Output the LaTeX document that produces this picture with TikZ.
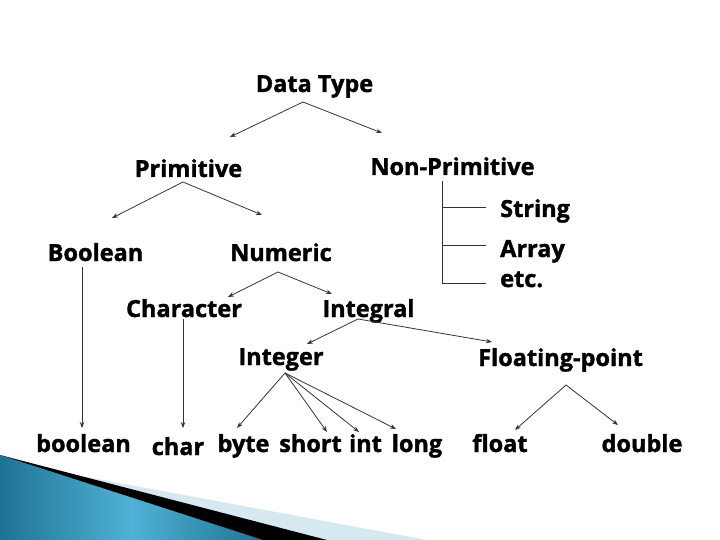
\documentclass[tikz,border=0pt]{standalone}
\usepackage{fontspec}
\setmainfont{Open Sans}[BoldFeatures={FakeBold=1.5}]
\usetikzlibrary{arrows.meta}
\definecolor{bandblue}{RGB}{30,115,148}
\definecolor{bandlight}{RGB}{80,178,214}
\definecolor{bandpale}{RGB}{214,232,240}
\begin{document}
\begin{tikzpicture}[x=1pt,y=-1pt,
  lbl/.style={font=\bfseries\fontsize{23.5}{26}\selectfont, inner sep=0pt, anchor=base},
  lblw/.style={lbl, anchor=base west},
  arr/.style={draw=black!80, line width=0.8pt, -{Stealth[length=6pt,width=4.5pt]}},
  ln/.style={draw=black!80, line width=0.8pt}]
\useasboundingbox (0,0) rectangle (720,540);
% bottom decoration
\fill[bandpale] (0,461) -- (427,540) -- (0,540) -- cycle;
\fill[black] (0,455) -- (327,540) -- (0,540) -- cycle;
\shade[left color=bandblue, right color=bandblue, middle color=bandlight] (0,455) -- (263,540) -- (0,540) -- cycle;

% labels
\node[lbl] (dt) at (314.5,92) {Data Type};
\node[lbl] (prim) at (188.5,177) {Primitive};
\node[lbl] (nonp) at (452.5,175) {Non-Primitive};
\node[lblw] (str) at (500,217) {String};
\node[lblw] (arrn) at (500,257) {Array};
\node[lblw] (etc) at (500,287) {etc.};
\node[lbl] (bool) at (95.5,261) {Boolean};
\node[lbl] (num) at (281,261) {Numeric};
\node[lbl] (chr) at (184,317) {Character};
\node[lbl] (intg) at (368.5,317) {Integral};
\node[lbl] (inte) at (281,365) {Integer};
\node[lbl] (flp) at (560.5,366) {Floating-point};
\node[lbl] (tbool) at (83.5,452) {boolean};
\node[lbl] (tchar) at (178,455) {char};
\node[lbl] (tbyte) at (243.5,452) {byte};
\node[lbl] (tshort) at (310.5,452) {short};
\node[lbl] (tint) at (365.5,452) {int};
\node[lbl] (tlong) at (417,452) {long};
\node[lbl] (tfloat) at (500,452) {float};
\node[lbl] (tdouble) at (642,452) {double};

% connector end points
\coordinate (dtA) at (303,102);
\coordinate (dtL) at (230,137);
\coordinate (dtR) at (382,133);
\coordinate (prA) at (183,182);
\coordinate (prL) at (112,218);
\coordinate (prR) at (262,215);
\coordinate (npTop) at (442,181);
\coordinate (npS) at (442,207);
\coordinate (npA) at (442,245);
\coordinate (npE) at (442,283);
\coordinate (npSe) at (486,207);
\coordinate (npAe) at (486,245);
\coordinate (npEe) at (486,283);
\coordinate (boA) at (82,267);
\coordinate (boT) at (82,428);
\coordinate (nuA) at (278,272);
\coordinate (nuL) at (228,297);
\coordinate (nuR) at (332,294);
\coordinate (chA) at (183,319);
\coordinate (chT) at (183,428);
\coordinate (igA) at (358,319);
\coordinate (igL) at (307,344);
\coordinate (igR) at (492,342);
\coordinate (inA) at (285,373);
\coordinate (inB) at (237,428);
\coordinate (inS) at (327,432);
\coordinate (inI) at (359,432);
\coordinate (inL) at (396,429);
\coordinate (fpA) at (566,385);
\coordinate (fpF) at (515,430);
\coordinate (fpD) at (618,425);

% connectors
\draw[arr] (dtA) -- (dtL);
\draw[arr] (dtA) -- (dtR);
\draw[arr] (prA) -- (prL);
\draw[arr] (prA) -- (prR);
\draw[ln] (npTop) -- (npE);
\draw[ln] (npS) -- (npSe);
\draw[ln] (npA) -- (npAe);
\draw[ln] (npE) -- (npEe);
\draw[arr] (boA) -- (boT);
\draw[arr] (nuA) -- (nuL);
\draw[arr] (nuA) -- (nuR);
\draw[arr] (chA) -- (chT);
\draw[arr] (igA) -- (igL);
\draw[arr] (igA) -- (igR);
\draw[arr] (inA) -- (inB);
\draw[arr] (inA) -- (inS);
\draw[arr] (inA) -- (inI);
\draw[arr] (inA) -- (inL);
\draw[arr] (fpA) -- (fpF);
\draw[arr] (fpA) -- (fpD);
\end{tikzpicture}
\end{document}
